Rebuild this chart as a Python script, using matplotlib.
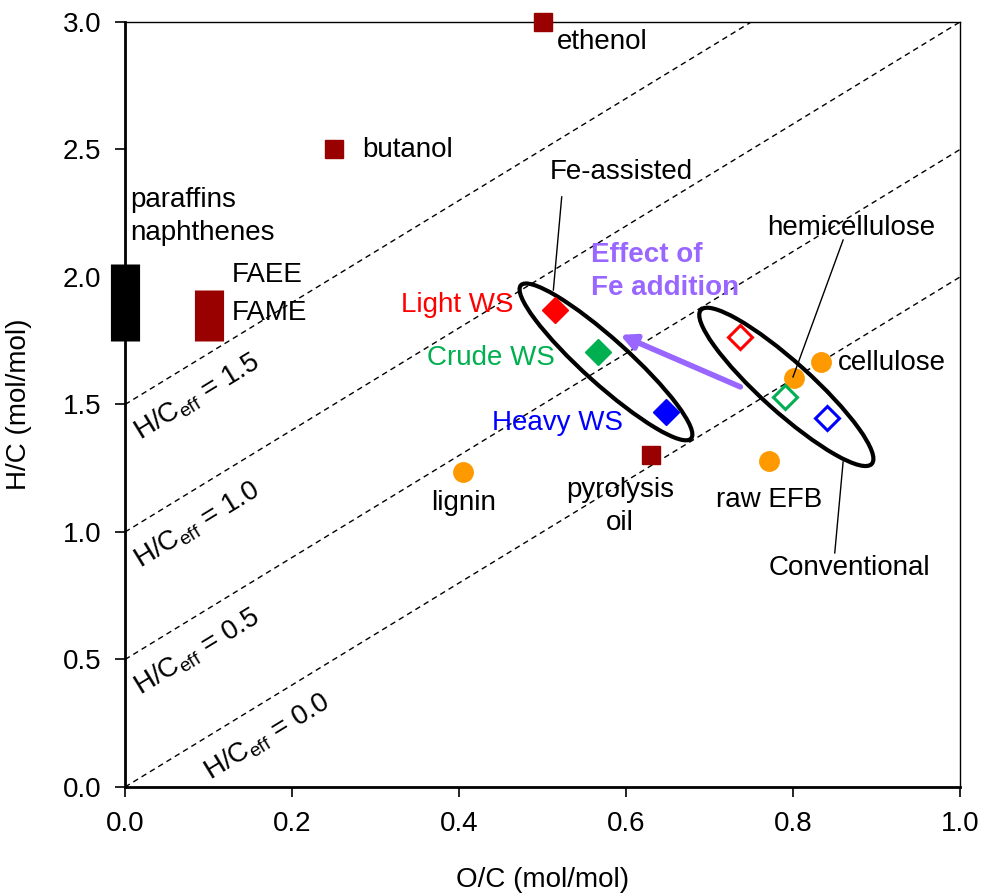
import numpy as np
import matplotlib.pyplot as plt
from matplotlib.patches import Ellipse
from matplotlib.transforms import ScaledTranslation

plt.rcParams['font.family'] = ['Liberation Sans', 'DejaVu Sans']
plt.rcParams['mathtext.fontset'] = 'custom'
plt.rcParams['mathtext.rm'] = 'Liberation Sans'
FS = 20

# reference compounds (dark red squares)
ref_names = ['ethenol', 'butanol', 'pyrolysis\noil']
ref_oc = [0.50, 0.25, 0.63]
ref_hc = [3.00, 2.50, 1.30]

# biomass components (orange circles)
bio_names = ['lignin', 'raw EFB', 'cellulose', 'hemicellulose']
bio_oc = [0.405, 0.771, 0.834, 0.801]
bio_hc = [1.235, 1.278, 1.667, 1.604]

# fuel ranges (bars)
paraffin_oc = 0.0
paraffin_hc = [1.75, 2.05]
fame_oc = 0.1
fame_hc = [1.75, 1.95]

# water-soluble fractions
ws_names = ['Light WS', 'Crude WS', 'Heavy WS']
ws_colors = ['#FF0000', '#00B050', '#0000FF']
fe_oc = [0.515, 0.566, 0.648]
fe_hc = [1.870, 1.706, 1.470]
conv_oc = [0.737, 0.790, 0.841]
conv_hc = [1.765, 1.530, 1.447]

# effective H/C lines
hc_eff = [0.0, 0.5, 1.0, 1.5]

fig = plt.figure(figsize=(9.82, 8.93), dpi=100)
ax = fig.add_axes([0.1273, 0.1187, 0.8503, 0.8567])
ax.set_xlim(0, 1)
ax.set_ylim(0, 3)

slope_deg = np.degrees(np.arctan(2 * 0.8567 * 8.93 / 3 / (0.8503 * 9.82)))
xs = np.array([0, 1])
label_x0 = [0.078, -0.006, -0.006, -0.006]
for c, x0 in zip(hc_eff, label_x0):
    ax.plot(xs, 2 * xs + c, ls=(0, (4, 3)), color='black', lw=1.0, zorder=1)
    d = 12
    ax.annotate(r'$\mathregular{H/C_{eff}}$ = %.1f' % c, xy=(x0, 2 * x0 + c),
                xytext=(d * np.sin(np.radians(slope_deg)), -d * np.cos(np.radians(slope_deg))),
                textcoords='offset points', rotation=slope_deg, rotation_mode='anchor',
                ha='left', va='top', fontsize=FS, annotation_clip=False)

# bars for fuels
ax.plot([paraffin_oc, paraffin_oc], paraffin_hc, color='black', lw=21,
        solid_capstyle='butt', clip_on=False, zorder=4)
ax.plot([fame_oc, fame_oc], fame_hc, color='#990000', lw=21,
        solid_capstyle='butt', zorder=4)

ax.plot(ref_oc, ref_hc, 's', color='#990000', ms=13, ls='none', clip_on=False, zorder=5)
ax.plot(bio_oc, bio_hc, 'o', color='#FF9900', ms=14, ls='none', zorder=5)

for i in range(3):
    ax.plot(fe_oc[i], fe_hc[i], 'D', color=ws_colors[i], ms=13, zorder=5)
    ax.plot(conv_oc[i], conv_hc[i], 'D', mfc='white', mec=ws_colors[i], mew=2.2, ms=12, zorder=5)

# ellipses drawn in inches around data centres
for (cx, cy), w, h in [((0.576, 1.667), 2.29, 0.45), ((0.792, 1.569), 2.30, 0.50)]:
    e = Ellipse((0, 0), w, h, angle=-42, fill=False, ec='black', lw=3,
                transform=fig.dpi_scale_trans + ScaledTranslation(cx, cy, ax.transData), zorder=3)
    ax.add_patch(e)

# arrow
ax.annotate('', xy=(0.593, 1.773), xytext=(0.737, 1.569),
            arrowprops=dict(arrowstyle='-|>,head_length=0.9,head_width=0.45', color='#9966FF',
                            lw=4, shrinkA=0, shrinkB=0), zorder=6)
ax.text(0.558, 2.02, 'Effect of\nFe addition', color='#9966FF', fontsize=FS, fontweight='bold',
        ha='left', va='center', linespacing=1.35)

# leader lines
for (x1, y1), (x2, y2) in [((0.523, 2.314), (0.513, 1.949)),
                           ((0.860, 2.145), (0.800, 1.608)),
                           ((0.860, 1.275), (0.850, 0.918))]:
    ax.plot([x1, x2], [y1, y2], color='black', lw=1, zorder=6)

ax.text(0.594, 2.412, 'Fe-assisted', fontsize=FS, ha='center', va='center')
ax.text(0.870, 2.192, 'hemicellulose', fontsize=FS, ha='center', va='center')
ax.text(0.867, 0.859, 'Conventional', fontsize=FS, ha='center', va='center')

ax.text(0.006, 2.237, 'paraffins\nnaphthenes', fontsize=FS, ha='left', va='center', linespacing=1.35)
ax.text(0.128, 2.008, 'FAEE', fontsize=FS, ha='left', va='center')
ax.text(0.128, 1.859, 'FAME', fontsize=FS, ha='left', va='center')
ax.text(0.517, 2.922, 'ethenol', fontsize=FS, ha='left', va='center')
ax.text(0.284, 2.498, 'butanol', fontsize=FS, ha='left', va='center')
ax.text(0.593, 1.100, 'pyrolysis\noil', fontsize=FS, ha='center', va='center', linespacing=1.35)
ax.text(0.405, 1.114, 'lignin', fontsize=FS, ha='center', va='center')
ax.text(0.772, 1.125, 'raw EFB', fontsize=FS, ha='center', va='center')
ax.text(0.854, 1.663, 'cellulose', fontsize=FS, ha='left', va='center')

ax.text(0.465, 1.89, 'Light WS', color=ws_colors[0], fontsize=FS, ha='right', va='center')
ax.text(0.362, 1.682, 'Crude WS', color=ws_colors[1], fontsize=FS, ha='left', va='center')
ax.text(0.440, 1.427, 'Heavy WS', color=ws_colors[2], fontsize=FS, ha='left', va='center')

ax.set_xticks(np.arange(0, 1.01, 0.2))
ax.set_yticks(np.arange(0, 3.01, 0.5))
ax.xaxis.set_major_formatter(plt.FormatStrFormatter('%.1f'))
ax.yaxis.set_major_formatter(plt.FormatStrFormatter('%.1f'))
ax.tick_params(direction='out', length=7, width=1.2, labelsize=FS, pad=10)
ax.spines['left'].set_linewidth(2)
ax.spines['bottom'].set_linewidth(2)
ax.spines['top'].set_linewidth(1)
ax.spines['right'].set_linewidth(1)
ax.set_xlabel('O/C (mol/mol)', fontsize=FS, labelpad=22)
ax.set_ylabel('H/C (mol/mol)', fontsize=FS, labelpad=22)

fig.savefig('out.png', dpi=100)
